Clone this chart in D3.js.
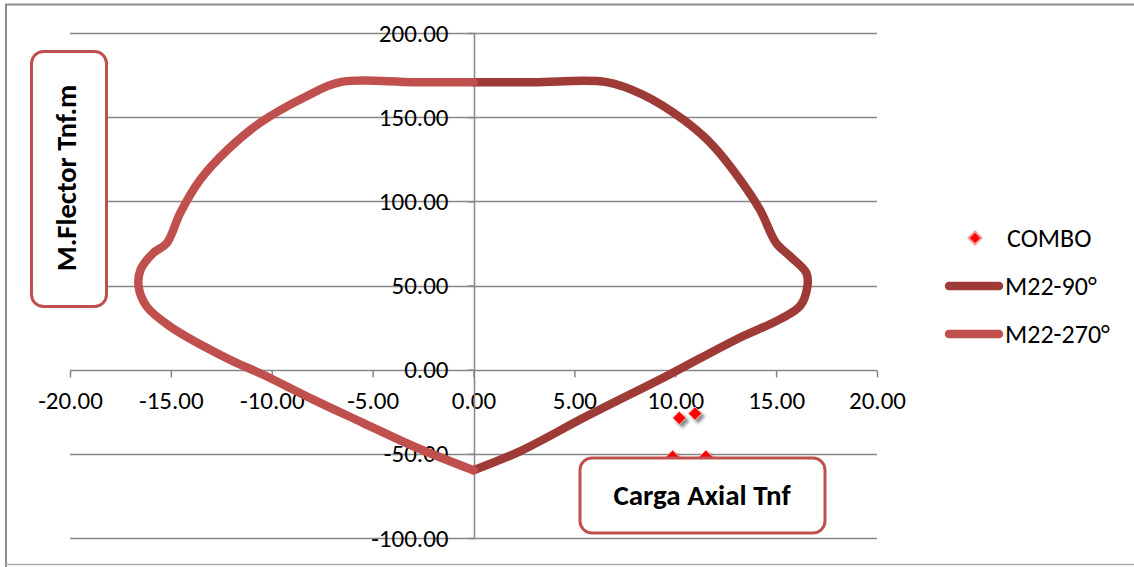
<!DOCTYPE html>
<html><head><meta charset="utf-8">
<script src="https://cdn.jsdelivr.net/npm/d3@7"></script>
<style>
html,body{margin:0;padding:0;background:#fff;}
svg text{font-family:Calibri, Carlito, Lato, "Open Sans", sans-serif;fill:#000;}
</style></head>
<body>
<svg id="chart" width="1134" height="567"></svg>
<script>
// ---- data ----
const xTicks = [-20, -15, -10, -5, 0, 5, 10, 15, 20];
const yTicks = [-100, -50, 0, 50, 100, 150, 200];
const seriesNames = ["COMBO", "M22-90°", "M22-270°"];
const xTitle = "Carga Axial Tnf";
const yTitle = "M.Flector Tnf.m";

const m90X = [0, 3.0, 6.6, 8.4, 10.4, 11.8, 13.1, 14.2, 15.0, 15.7, 16.5, 16.55, 16.2, 15.2, 13.0, 9.7, 5.6, 2.3, 0];
const m90Y = [170.8, 170.8, 170.8, 163.3, 148.5, 134.0, 114.8, 95.0, 75.2, 67.3, 57.4, 49.5, 38.0, 30.0, 17.8, -3.0, -27.7, -48.5, -59.8];

const m270X = [0, -3.0, -6.6, -8.3, -10.6, -12.2, -13.55, -14.54, -15.2, -15.87, -16.5, -16.6, -16.2, -15.04, -12.07, -10.42, -7.94, -5.46, -2.98, 0];
const m270Y = [170.8, 170.8, 170.8, 162.3, 146.5, 130.6, 112.8, 93.0, 75.2, 69.3, 59.4, 49.5, 37.6, 25.7, 5.9, -3.0, -17.8, -31.7, -45.5, -59.8];

const comboX = [10.2, 10.98, 9.87, 11.52];
const comboY = [-28.7, -26.1, -51.7, -51.7];

// ---- layout ----
const svg = d3.select("#chart");
const x = d3.scaleLinear().domain([-20, 20]).range([70, 877]);
const y = d3.scaleLinear().domain([-100, 200]).range([538, 33]);
const gridColor = "#878787";
const c90 = "#9E3B37", c270 = "#C0504D";
const fmt = d => d3.format(".2f")(d).replace("\u2212", "-");

// outer frame
svg.append("path").attr("d", "M6,567 V4.5 H1134").attr("fill","none").attr("stroke","#8c8c8c").attr("stroke-width",2);
svg.append("line").attr("x1",6).attr("x2",1134).attr("y1",564.5).attr("y2",564.5).attr("stroke","#b0b0b0").attr("stroke-width",1.5);

const defs = svg.append("defs");
const f = defs.append("filter").attr("id","sh").attr("x","-50%").attr("y","-50%").attr("width","200%").attr("height","200%");
f.append("feDropShadow").attr("dx",3).attr("dy",3).attr("stdDeviation",1.6).attr("flood-color","#000").attr("flood-opacity",0.45);

// horizontal gridlines
svg.append("g").selectAll("line").data(yTicks).join("line")
  .attr("x1", x(-20)).attr("x2", x(20))
  .attr("y1", d => Math.round(y(d)) + 0.5).attr("y2", d => Math.round(y(d)) + 0.5)
  .attr("stroke", gridColor).attr("stroke-width", 1.5);

// x axis at y=0
const xAxis = d3.axisBottom(x).tickValues(xTicks).tickFormat(fmt).tickSize(7).tickPadding(14);
const gx = svg.append("g").attr("transform", `translate(0,${Math.round(y(0)) + 0.5})`).call(xAxis);
gx.select(".domain").remove();
gx.selectAll("line").attr("stroke", gridColor).attr("stroke-width", 1.5);
gx.selectAll("text").attr("font-size", 25).attr("fill", "#000");

// y axis at x=0
const yAxis = d3.axisLeft(y).tickValues(yTicks).tickFormat(fmt).tickSize(7).tickPadding(19);
const gy = svg.append("g").attr("transform", `translate(${Math.round(x(0)) + 0.5},0)`).call(yAxis);
gy.select(".domain").attr("stroke", gridColor).attr("stroke-width", 1.5).attr("d", `M0,${y(200)}V${y(-100)}`);
gy.selectAll("line").attr("stroke", gridColor).attr("stroke-width", 1.5);
gy.selectAll("text").attr("font-size", 25).attr("fill", "#000");

// curves
const line = d3.line().x(d => x(d[0])).y(d => y(d[1])).curve(d3.curveCatmullRom.alpha(0.5));
svg.append("path").datum(d3.zip(m90X, m90Y)).attr("d", line)
  .attr("fill","none").attr("stroke", c90).attr("stroke-width", 8.5).attr("stroke-linecap","round").attr("stroke-linejoin","round");
svg.append("path").datum(d3.zip(m270X, m270Y)).attr("d", line)
  .attr("fill","none").attr("stroke", c270).attr("stroke-width", 8.5).attr("stroke-linecap","round").attr("stroke-linejoin","round");

// combo points
const diamond = d3.symbol().type(d3.symbolDiamond2).size(110);
svg.append("g").selectAll("path").data(d3.zip(comboX, comboY)).join("path")
  .attr("d", diamond).attr("transform", d => `translate(${x(d[0])},${y(d[1])})`)
  .attr("fill", "#FF0000").attr("stroke","#f4a0a0").attr("stroke-width",1).attr("filter","url(#sh)");

// x title box
svg.append("rect").attr("x", 580).attr("y", 458).attr("width", 245).attr("height", 75).attr("rx", 12)
  .attr("fill","#fff").attr("stroke", c270).attr("stroke-width", 3);
svg.append("text").attr("x", 702).attr("y", 495).attr("text-anchor","middle").attr("dominant-baseline","central")
  .attr("font-size", 29).attr("font-weight","bold").text(xTitle);

// y title box
svg.append("rect").attr("x", 31.5).attr("y", 51.5).attr("width", 75).attr("height", 255).attr("rx", 12)
  .attr("fill","#fff").attr("stroke", c270).attr("stroke-width", 3);
svg.append("text").attr("transform","translate(66,178) rotate(-90)").attr("text-anchor","middle").attr("dominant-baseline","central")
  .attr("font-size", 28.5).attr("font-weight","bold").text(yTitle);

// legend
const lg = svg.append("g");
lg.append("path").attr("d", diamond).attr("transform","translate(975,238)").attr("fill","#FF0000").attr("stroke","#e8a0a0").attr("stroke-width",2);
lg.append("text").attr("x", 1007).attr("y", 238).attr("dominant-baseline","central").attr("font-size", 26).text(seriesNames[0]);
lg.append("line").attr("x1", 949).attr("x2", 999).attr("y1", 286).attr("y2", 286).attr("stroke", c90).attr("stroke-width", 8.5).attr("stroke-linecap","round");
lg.append("text").attr("x", 1005).attr("y", 286).attr("dominant-baseline","central").attr("font-size", 26).text(seriesNames[1]);
lg.append("line").attr("x1", 949).attr("x2", 999).attr("y1", 334).attr("y2", 334).attr("stroke", c270).attr("stroke-width", 8.5).attr("stroke-linecap","round");
lg.append("text").attr("x", 1005).attr("y", 334).attr("dominant-baseline","central").attr("font-size", 26).text(seriesNames[2]);
</script>
</body></html>
